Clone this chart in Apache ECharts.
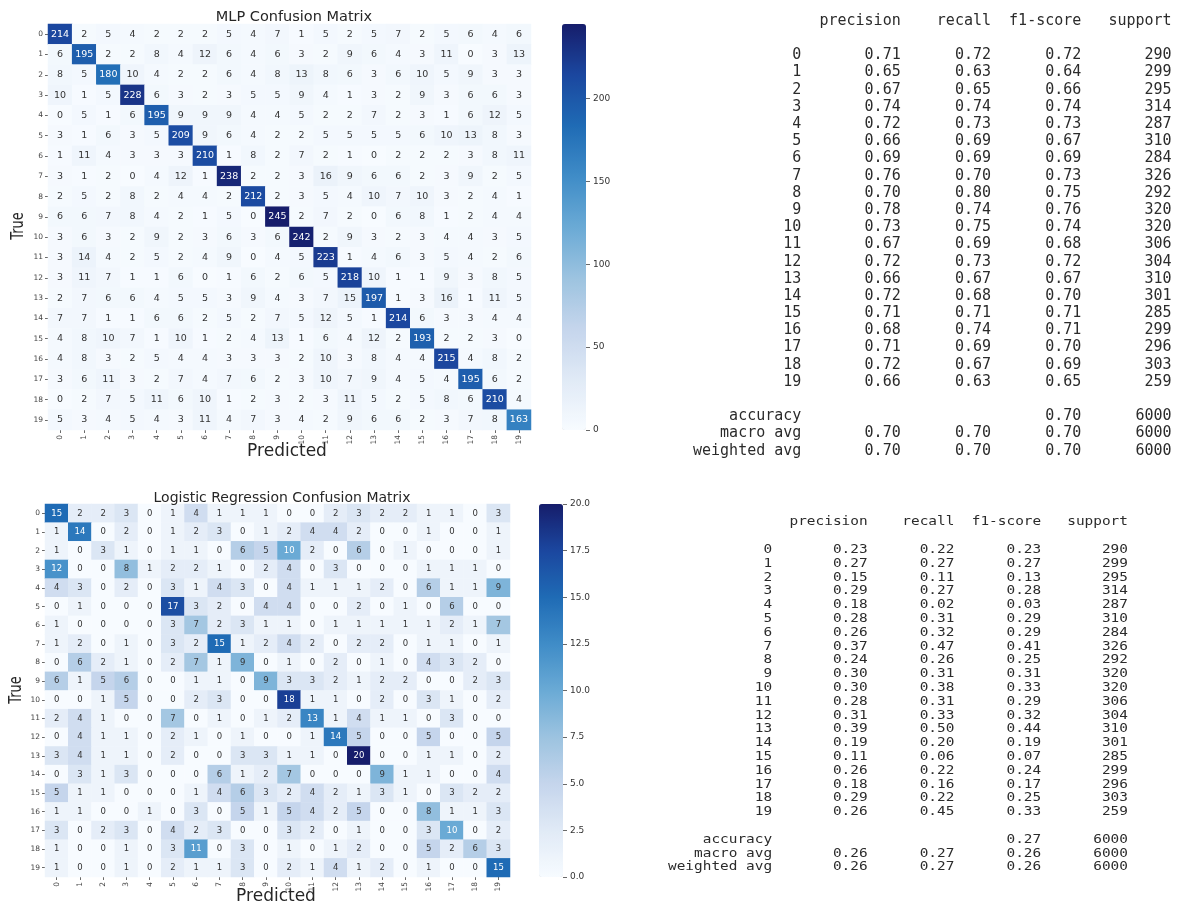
<!DOCTYPE html>
<html><head><meta charset="utf-8">
<script src="https://cdn.jsdelivr.net/npm/echarts@6/dist/echarts.min.js"></script>
<style>html,body{margin:0;padding:0;background:#fff}#c{width:1178px;height:905px}</style>
</head><body><div id="c"></div>
<script>
const classes = ['0','1','2','3','4','5','6','7','8','9','10','11','12','13','14','15','16','17','18','19'];

const mlpMatrix = [
 [214,2,5,4,2,2,2,5,4,7,1,5,2,5,7,2,5,6,4,6],
 [6,195,2,2,8,4,12,6,4,6,3,2,9,6,4,3,11,0,3,13],
 [8,5,180,10,4,2,2,6,4,8,13,8,6,3,6,10,5,9,3,3],
 [10,1,5,228,6,3,2,3,5,5,9,4,1,3,2,9,3,6,6,3],
 [0,5,1,6,195,9,9,9,4,4,5,2,2,7,2,3,1,6,12,5],
 [3,1,6,3,5,209,9,6,4,2,2,5,5,5,5,6,10,13,8,3],
 [1,11,4,3,3,3,210,1,8,2,7,2,1,0,2,2,2,3,8,11],
 [3,1,2,0,4,12,1,238,2,2,3,16,9,6,6,2,3,9,2,5],
 [2,5,2,8,2,4,4,2,212,2,3,5,4,10,7,10,3,2,4,1],
 [6,6,7,8,4,2,1,5,0,245,2,7,2,0,6,8,1,2,4,4],
 [3,6,3,2,9,2,3,6,3,6,242,2,9,3,2,3,4,4,3,5],
 [3,14,4,2,5,2,4,9,0,4,5,223,1,4,6,3,5,4,2,6],
 [3,11,7,1,1,6,0,1,6,2,6,5,218,10,1,1,9,3,8,5],
 [2,7,6,6,4,5,5,3,9,4,3,7,15,197,1,3,16,1,11,5],
 [7,7,1,1,6,6,2,5,2,7,5,12,5,1,214,6,3,3,4,4],
 [4,8,10,7,1,10,1,2,4,13,1,6,4,12,2,193,2,2,3,0],
 [4,8,3,2,5,4,4,3,3,3,2,10,3,8,4,4,215,4,8,2],
 [3,6,11,3,2,7,4,7,6,2,3,10,7,9,4,5,4,195,6,2],
 [0,2,7,5,11,6,10,1,2,3,2,3,11,5,2,5,8,6,210,4],
 [5,3,4,5,4,3,11,4,7,3,4,2,9,6,6,2,3,7,8,163]
];

const lrMatrix = [
 [15,2,2,3,0,1,4,1,1,1,0,0,2,3,2,2,1,1,0,3],
 [1,14,0,2,0,1,2,3,0,1,2,4,4,2,0,0,1,0,0,1],
 [1,0,3,1,0,1,1,0,6,5,10,2,0,6,0,1,0,0,0,1],
 [12,0,0,8,1,2,2,1,0,2,4,0,3,0,0,0,1,1,1,0],
 [4,3,0,2,0,3,1,4,3,0,4,1,1,1,2,0,6,1,1,9],
 [0,1,0,0,0,17,3,2,0,4,4,0,0,2,0,1,0,6,0,0],
 [1,0,0,0,0,3,7,2,3,1,1,0,1,1,1,1,1,2,1,7],
 [1,2,0,1,0,3,2,15,1,2,4,2,0,2,2,0,1,1,0,1],
 [0,6,2,1,0,2,7,1,9,0,1,0,2,0,1,0,4,3,2,0],
 [6,1,5,6,0,0,1,1,0,9,3,3,2,1,2,2,0,0,2,3],
 [0,0,1,5,0,0,2,3,0,0,18,1,1,0,2,0,3,1,0,2],
 [2,4,1,0,0,7,0,1,0,1,2,13,1,4,1,1,0,3,0,0],
 [0,4,1,1,0,2,1,0,1,0,0,1,14,5,0,0,5,0,0,5],
 [3,4,1,1,0,2,0,0,3,3,1,1,0,20,0,0,1,1,0,2],
 [0,3,1,3,0,0,0,6,1,2,7,0,0,0,9,1,1,0,0,4],
 [5,1,1,0,0,0,1,4,6,3,2,4,2,1,3,1,0,3,2,2],
 [1,1,0,0,1,0,3,0,5,1,5,4,2,5,0,0,8,1,1,3],
 [3,0,2,3,0,4,2,3,0,0,3,2,0,1,0,0,3,10,0,2],
 [1,0,0,1,0,3,11,0,3,0,1,0,1,2,0,0,5,2,6,3],
 [1,0,0,1,0,2,1,1,3,0,2,1,4,1,2,0,1,0,0,15]
];

const mlpColorTicks = [0,50,100,150,200];
const lrColorTicks = [0,2.5,5,7.5,10,12.5,15,17.5,20];

const support = [290,299,295,314,287,310,284,326,292,320,320,306,304,310,301,285,299,296,303,259];
const totalSupport = 6000;

const mlpPrecision = [0.71,0.65,0.67,0.74,0.72,0.66,0.69,0.76,0.70,0.78,0.73,0.67,0.72,0.66,0.72,0.71,0.68,0.71,0.72,0.66];
const mlpRecall    = [0.72,0.63,0.65,0.74,0.73,0.69,0.69,0.70,0.80,0.74,0.75,0.69,0.73,0.67,0.68,0.71,0.74,0.69,0.67,0.63];
const mlpF1        = [0.72,0.64,0.66,0.74,0.73,0.67,0.69,0.73,0.75,0.76,0.74,0.68,0.72,0.67,0.70,0.71,0.71,0.70,0.69,0.65];
const mlpAccuracy = 0.70;
const mlpMacroAvg = [0.70,0.70,0.70];
const mlpWeightedAvg = [0.70,0.70,0.70];

const lrPrecision = [0.23,0.27,0.15,0.29,0.18,0.28,0.26,0.37,0.24,0.30,0.30,0.28,0.31,0.39,0.19,0.11,0.26,0.18,0.29,0.26];
const lrRecall    = [0.22,0.27,0.11,0.27,0.02,0.31,0.32,0.47,0.26,0.31,0.38,0.31,0.33,0.50,0.20,0.06,0.22,0.16,0.22,0.45];
const lrF1        = [0.23,0.27,0.13,0.28,0.03,0.29,0.29,0.41,0.25,0.31,0.33,0.29,0.32,0.44,0.19,0.07,0.24,0.17,0.25,0.33];
const lrAccuracy = 0.27;
const lrMacroAvg = [0.26,0.27,0.26];
const lrWeightedAvg = [0.26,0.27,0.26];

const blues = ['#f7fbff','#e0eaf6','#c5d5ec','#9cc3e0','#6aaad5','#3f8cc7','#1f6bb5','#1b479f','#161d6b'];
const SANS = 'DejaVu Sans';

function heatData(m) {
  const max = Math.max(...m.flat());
  const out = [];
  m.forEach((row, r) => row.forEach((v, c) => {
    out.push({ value: [c, r, v], label: { color: v / max >= 0.48 ? '#ffffff' : '#333333' } });
  }));
  return out;
}

function report(prec, rec, f1, sup, acc, macro, weighted, total) {
  const W = 12;
  const f = v => v.toFixed(2).padStart(9);
  const n = v => String(v).padStart(9);
  const lines = [];
  lines.push(''.padStart(W) + ' ' + ' ' + 'precision'.padStart(9) + ' ' + 'recall'.padStart(9) + ' ' + 'f1-score'.padStart(9) + ' ' + 'support'.padStart(9));
  lines.push('');
  classes.forEach((c, i) => {
    lines.push(c.padStart(W) + ' ' + ' ' + f(prec[i]) + ' ' + f(rec[i]) + ' ' + f(f1[i]) + ' ' + n(sup[i]));
  });
  lines.push('');
  lines.push('accuracy'.padStart(W) + ' ' + ' ' + ''.padStart(9) + ' ' + ''.padStart(9) + ' ' + f(acc) + ' ' + n(total));
  lines.push('macro avg'.padStart(W) + ' ' + ' ' + f(macro[0]) + ' ' + f(macro[1]) + ' ' + f(macro[2]) + ' ' + n(total));
  lines.push('weighted avg'.padStart(W) + ' ' + ' ' + f(weighted[0]) + ' ' + f(weighted[1]) + ' ' + f(weighted[2]) + ' ' + n(total));
  return lines.join('\n');
}

const mlpMax = Math.max(...mlpMatrix.flat());
const lrMax = Math.max(...lrMatrix.flat());

function catAxis(gridIndex, isX) {
  return {
    type: 'category', gridIndex, data: classes, inverse: !isX,
    axisLine: { show: false },
    axisTick: { show: true, length: 3, alignWithLabel: true, lineStyle: { color: '#444', width: 0.8 } },
    axisLabel: { fontSize: 7.5, color: '#444', fontFamily: SANS, margin: 5, rotate: isX ? 90 : 0, interval: 0 },
    splitLine: { show: false }, splitArea: { show: false }
  };
}
function barAxis(gridIndex, max, ticks, fmt) {
  return {
    type: 'value', gridIndex, position: 'right', min: 0, max,
    axisLine: { show: false, onZero: false },
    axisTick: { show: true, length: 4, customValues: ticks, lineStyle: { color: '#444', width: 0.8 } },
    axisLabel: { customValues: ticks, fontSize: 9, color: '#333', fontFamily: SANS, margin: 7, formatter: fmt },
    splitLine: { show: false }
  };
}

const chart = echarts.init(document.getElementById('c'));
chart.setOption({
  backgroundColor: '#ffffff',
  animation: false,
  title: [
    { text: 'MLP Confusion Matrix', left: 289, top: 5, textAlign: 'center',
      textStyle: { fontSize: 14.5, fontWeight: 'normal', color: '#262626', fontFamily: SANS } },
    { text: 'Logistic Regression Confusion Matrix', left: 277, top: 486, textAlign: 'center',
      textStyle: { fontSize: 14, fontWeight: 'normal', color: '#262626', fontFamily: SANS } }
  ],
  grid: [
    { left: 48, top: 24, width: 483, height: 406 },
    { left: 45, top: 504, width: 465, height: 373 },
    { left: 562, top: 24, width: 24, height: 406 },
    { left: 539, top: 504, width: 24, height: 373 }
  ],
  xAxis: [
    catAxis(0, true), catAxis(1, true),
    { type: 'category', gridIndex: 2, show: false, data: [''] },
    { type: 'category', gridIndex: 3, show: false, data: [''] }
  ],
  yAxis: [
    catAxis(0, false), catAxis(1, false),
    barAxis(2, mlpMax, mlpColorTicks, v => String(v)),
    barAxis(3, lrMax, lrColorTicks, v => v.toFixed(1))
  ],
  visualMap: [
    { type: 'continuous', seriesIndex: 0, min: 0, max: mlpMax, orient: 'vertical',
      left: 562, top: 24, itemWidth: 24, itemHeight: 406, padding: 0, calculable: false,
      hoverLink: false, inRange: { color: blues } },
    { type: 'continuous', seriesIndex: 1, min: 0, max: lrMax, orient: 'vertical',
      left: 539, top: 504, itemWidth: 24, itemHeight: 373, padding: 0, calculable: false,
      hoverLink: false, inRange: { color: blues } }
  ],
  series: [
    { type: 'heatmap', xAxisIndex: 0, yAxisIndex: 0, data: heatData(mlpMatrix),
      label: { show: true, fontSize: 9.5, fontFamily: SANS, formatter: p => String(p.value[2]) } },
    { type: 'heatmap', xAxisIndex: 1, yAxisIndex: 1, data: heatData(lrMatrix),
      label: { show: true, fontSize: 8.5, fontFamily: SANS, formatter: p => String(p.value[2]) } }
  ],
  graphic: [
    { type: 'text', x: 18, y: 226, rotation: Math.PI / 2, scaleX: 0.72,
      style: { text: 'True', font: '18px "DejaVu Sans"', fill: '#262626', align: 'center', verticalAlign: 'middle' } },
    { type: 'text', x: 287, y: 452,
      style: { text: 'Predicted', font: '17px "DejaVu Sans"', fill: '#262626', align: 'center', verticalAlign: 'middle' } },
    { type: 'text', x: 16, y: 690, rotation: Math.PI / 2, scaleX: 0.72,
      style: { text: 'True', font: '18px "DejaVu Sans"', fill: '#262626', align: 'center', verticalAlign: 'middle' } },
    { type: 'text', x: 276, y: 897,
      style: { text: 'Predicted', font: '17px "DejaVu Sans"', fill: '#262626', align: 'center', verticalAlign: 'middle' } },
    { type: 'text', x: 693, y: 12.4,
      style: { text: report(mlpPrecision, mlpRecall, mlpF1, support, mlpAccuracy, mlpMacroAvg, mlpWeightedAvg, totalSupport),
        font: '15px "DejaVu Sans Mono"', lineHeight: 17.19, fill: '#2b2b2b', align: 'left', verticalAlign: 'top' } },
    { type: 'text', x: 668, y: 515.3, scaleX: 0.961, scaleY: 0.803,
      style: { text: report(lrPrecision, lrRecall, lrF1, support, lrAccuracy, lrMacroAvg, lrWeightedAvg, totalSupport),
        font: '15px "DejaVu Sans Mono"', lineHeight: 17.19, fill: '#2b2b2b', align: 'left', verticalAlign: 'top' } }
  ]
});
</script>
</body></html>
